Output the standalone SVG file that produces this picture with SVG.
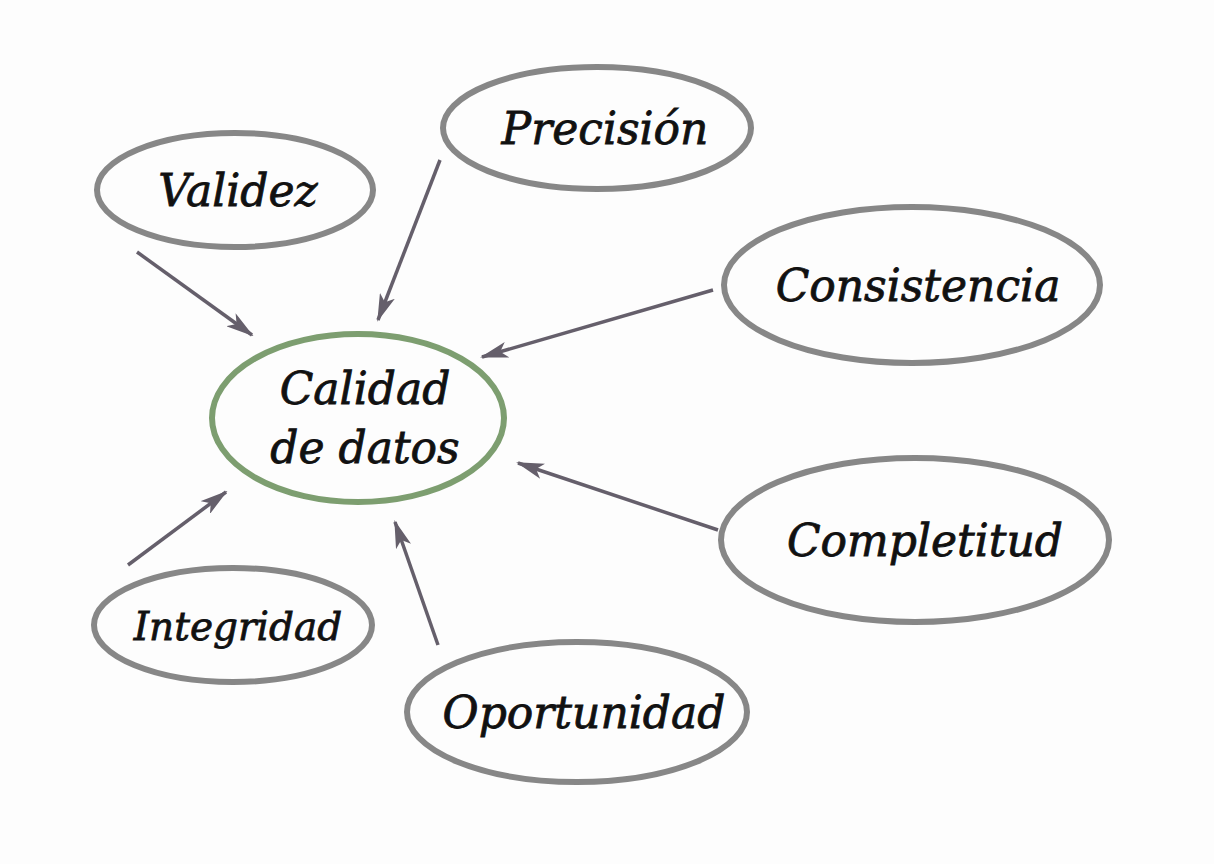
<svg xmlns="http://www.w3.org/2000/svg" width="1214" height="864" viewBox="0 0 1214 864">
<defs>
<marker id="ah" viewBox="0 0 28 16" refX="26" refY="8" markerWidth="28" markerHeight="16" markerUnits="userSpaceOnUse" orient="auto">
<path d="M0,0 L28,8 L0,16 L7,8 Z" fill="#655f6b"/>
</marker>
<style>
.n{fill:none;stroke:#878787;stroke-width:6}
.c{fill:none;stroke:#7d9e70;stroke-width:6}
.t{font-family:"DejaVu Serif","Liberation Serif",serif;font-style:italic;font-size:44px;fill:#111;stroke:#111;stroke-width:0.8;text-anchor:middle}
.a{stroke:#655f6b;stroke-width:3.5;fill:none;marker-end:url(#ah)}
</style>
</defs>
<rect width="1214" height="864" fill="#fdfdfd"/>
<g id="connectors">
<line class="a" x1="137" y1="252" x2="252" y2="335"/>
<line class="a" x1="440" y1="160" x2="378" y2="320"/>
<line class="a" x1="713" y1="290" x2="482" y2="357"/>
<line class="a" x1="718" y1="530" x2="518" y2="463"/>
<line class="a" x1="438" y1="645" x2="395" y2="522"/>
<line class="a" x1="128" y1="565" x2="226" y2="492"/>
</g>
<g id="validez"><ellipse class="n" cx="235" cy="190" rx="138" ry="57"/><text class="t" x="238" y="206">Validez</text></g>
<g id="precision"><ellipse class="n" cx="597" cy="128" rx="154" ry="61"/><text class="t" x="605" y="144">Precisión</text></g>
<g id="consistencia"><ellipse class="n" cx="912" cy="285" rx="188" ry="78"/><text class="t" x="918" y="301">Consistencia</text></g>
<g id="calidad"><ellipse class="c" cx="358" cy="418" rx="146" ry="84"/><text class="t" x="365" y="404">Calidad</text><text class="t" x="365" y="463">de datos</text></g>
<g id="completitud"><ellipse class="n" cx="915" cy="540" rx="194" ry="82"/><text class="t" x="925" y="556">Completitud</text></g>
<g id="integridad"><ellipse class="n" cx="233" cy="625" rx="139" ry="57"/><text class="t" x="238" y="640" style="font-size:39px">Integridad</text></g>
<g id="oportunidad"><ellipse class="n" cx="577" cy="712" rx="170" ry="70"/><text class="t" x="584" y="728">Oportunidad</text></g>
</svg>
